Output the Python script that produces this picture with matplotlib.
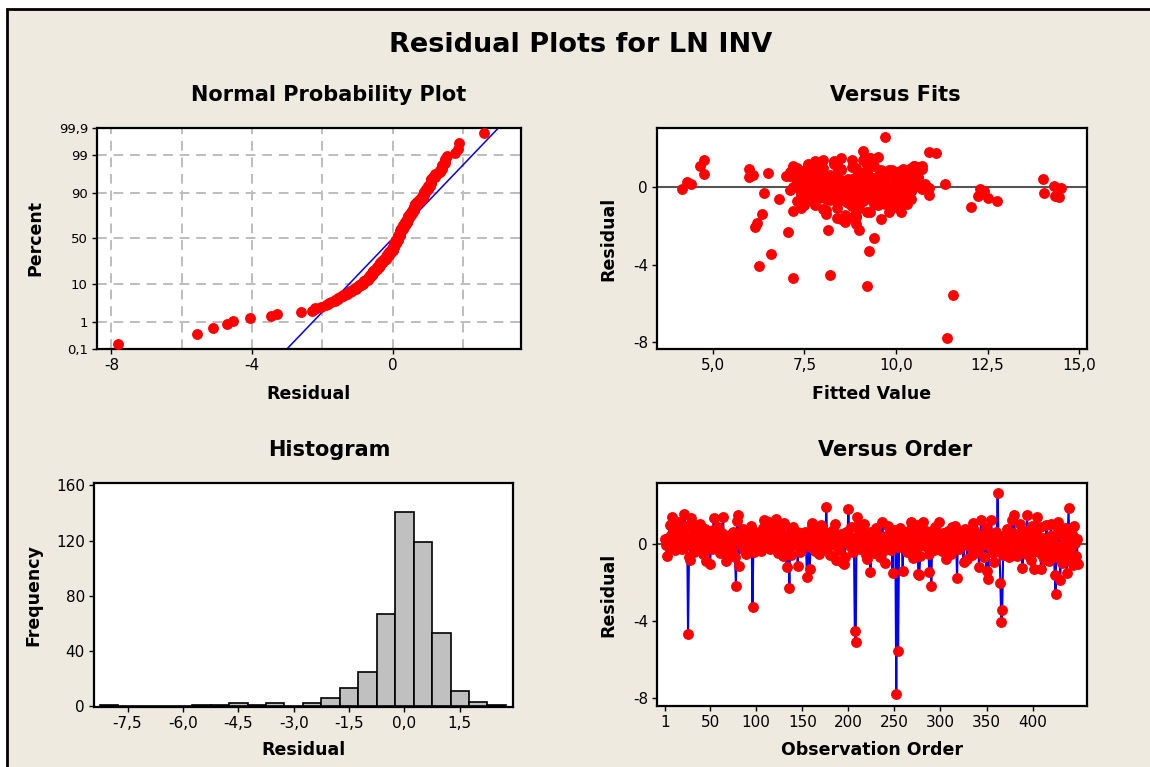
import matplotlib
matplotlib.use("Agg")
import matplotlib.pyplot as plt
import numpy as np
from statistics import NormalDist
from matplotlib.patches import Rectangle

# residuals in observation order
residuals = [
    0.25, -0.10, -0.65, 0.30, 0.05, 0.95, 0.45, -0.20, 1.40, 0.60,
    0.15, -0.35, 0.80, 0.35, -0.05, 1.10, 0.50, 0.20, -0.30, 0.70,
    0.10, 1.55, 0.40, -0.15, 0.90, -4.70, -0.70, -0.85, 1.35, 1.05,
    0.30, -0.45, 0.60, 0.00, 0.85, 0.20, -0.10, 0.55, 1.00, -0.25,
    0.45, -0.55, 0.15, 0.75, 0.05, -0.90, 0.35, 0.65, -0.20, -1.05,
    0.20, -0.30, 0.70, 1.35, 0.10, -0.15, 0.40, 0.00, 0.85, 0.25,
    -0.50, 0.15, 0.55, 1.40, 0.05, -0.20, -0.90, 0.30, -0.60, 0.10,
    0.45, -0.05, 0.20, -0.40, 0.60, 0.15, -0.70, -2.20, 1.15, 1.50,
    -1.15, 0.35, -0.10, 0.50, 0.05, 0.75, -0.35, 0.20, -0.55, 0.65,
    0.00, 0.40, -0.25, 0.90, 0.15, -3.30, 0.30, -0.45, 0.60, 0.10,
    0.55, -0.20, 0.30, 0.05, -0.40, 0.15, 0.80, 1.20, 0.35, -0.10,
    1.15, 0.45, 0.00, 1.10, -0.30, 0.25, 0.60, -0.05, 0.20, 0.90,
    0.40, 1.30, 0.10, -0.50, 0.65, 0.15, -0.15, 0.50, -0.65, 1.05,
    0.20, 0.35, -1.20, 0.05, -0.35, -2.30, 0.70, -0.60, 0.30, 0.85,
    -0.10, 0.45, 0.15, 0.60, -1.15, 0.00, 0.55, -0.45, 0.20, -0.25,
    0.35, -0.05, 0.60, 0.10, -1.75, 0.25, 0.45, -1.30, -0.20, 1.05,
    0.90, 0.15, 0.50, -0.40, 0.75, 0.00, 0.30, -0.55, 0.20, 0.95,
    0.40, -0.10, 0.05, 0.65, -0.30, 1.90, 0.15, -0.15, 0.55, -0.60,
    0.25, 0.10, 0.70, -0.05, 1.00, 0.35, -0.85, 0.45, 0.00, -0.35,
    0.20, 0.50, -0.95, 0.15, -1.05, -0.70, 0.60, 0.05, 0.30, 1.78,
    0.40, -0.15, 0.85, 0.10, -0.45, 0.30, -4.55, -5.10, 1.40, 0.95,
    0.05, 0.55, -0.30, 0.20, 0.65, -0.10, 1.00, 0.35, -0.60, -0.80,
    0.15, 0.45, 0.00, -1.45, 0.60, -0.20, 0.25, -0.50, 0.10, 0.80,
    0.50, -0.05, 0.20, -0.70, 0.35, 0.05, 1.10, -0.40, 0.15, -1.00,
    0.40, -0.25, 0.90, 0.00, 0.55, -0.35, 0.20, -1.55, 0.70, 0.10,
    0.30, -7.80, 0.15, -5.55, -0.20, 0.80, 0.45, 0.05, -1.40, 0.60,
    -0.10, 0.35, 0.20, -0.45, 0.50, 0.00, 0.70, 1.10, 0.25, -0.75,
    0.15, 0.40, -0.30, 0.95, 0.10, -1.60, -1.65, -0.65, 0.55, 0.05,
    1.10, 0.30, -0.15, 0.65, -0.05, 0.20, -0.55, -1.50, 0.45, -2.20,
    0.10, 0.60, -0.35, 0.85, 0.00, 0.35, 0.15, 1.10, -0.25, 0.50,
    0.20, -0.40, 0.55, 0.05, 0.30, -0.80, 0.15, 0.65, -0.10, 0.40,
    -0.55, 0.85, 0.00, 0.25, -0.20, 0.90, 0.10, -1.80, 0.50, -0.30,
    0.15, 0.60, -0.05, 0.35, -0.95, 0.20, 0.75, 0.05, -0.80, 0.45,
    -0.15, 0.30, 0.10, -0.60, 1.05, 0.70, 0.00, -0.35, 0.55, 0.15,
    -0.45, -1.20, 0.25, 1.20, -0.10, 0.40, -0.70, 0.20, 0.80, -1.40,
    0.10, -1.85, 0.40, -0.20, 1.20, 0.30, -0.50, -0.95, 0.05, 0.60,
    -0.15, 2.60, 0.25, -0.40, -2.05, -4.05, -3.45, -0.60, 0.15, 0.45,
    -0.30, 0.75, 0.00, -0.70, 0.35, 0.20, -0.10, 1.20, 0.55, 1.50,
    0.15, -0.45, -0.65, 0.50, 0.05, 1.00, -0.35, 0.30, -1.25, 0.10,
    0.65, -0.20, -0.55, 1.50, 0.20, -0.05, 0.40, -0.85, 0.90, 0.00,
    -1.30, 0.20, -0.40, 0.55, 1.40, -0.10, -0.45, 0.85, -1.30, -0.60,
    0.30, -0.80, 0.05, -0.35, 0.95, -0.55, 0.15, -0.90, 0.40, 1.00,
    -0.50, 0.10, -0.30, -1.65, -2.60, 0.60, -0.70, 1.10, -0.15, -1.90,
    0.45, -1.00, 0.00, -0.40, 0.80, -0.85, -1.55, 0.20, 1.85, -0.65,
    0.35, -0.20, 0.50, -1.10, 0.90, 0.05, -0.65, 0.25, -1.05,
]

# fitted values, same order
fitted = [
    8.9, 4.15, 7.6, 4.30, 9.4, 6.00, 8.2, 10.1, 4.75, 7.9,
    4.40, 8.6, 9.8, 7.4, 8.8, 4.65, 10.3, 9.1, 6.40, 4.75,
    8.3, 9.5, 7.7, 10.0, 8.5, 7.20, 7.3, 9.9, 7.8, 10.6,
    9.2, 8.1, 10.2, 7.5, 9.6, 8.7, 10.4, 6.00, 8.0, 9.3,
    7.9, 8.4, 10.8, 6.50, 9.0, 7.8, 8.6, 6.10, 9.7, 7.4,
    8.8, 10.1, 7.6, 8.3, 9.4, 7.1, 8.9, 10.5, 9.2, 7.7,
    8.5, 9.9, 7.3, 8.0, 10.2, 8.7, 9.5, 7.9, 8.2, 10.7,
    9.0, 7.5, 8.4, 9.8, 7.0, 10.0, 8.6, 8.15, 7.8, 9.3,
    8.1, 9.6, 10.3, 7.6, 8.9, 9.1, 7.4, 10.6, 8.3, 9.7,
    7.2, 8.8, 10.1, 7.9, 9.4, 9.25, 8.5, 7.7, 10.4, 9.0,
    8.0, 9.5, 7.3, 10.2, 8.6, 9.9, 7.1, 8.4, 10.0, 7.8,
    9.2, 8.7, 7.5, 10.5, 9.3, 8.1, 7.9, 10.8, 8.9, 9.6,
    7.6, 8.3, 10.3, 9.0, 7.4, 8.8, 9.7, 10.1, 8.2, 7.7,
    9.4, 10.6, 7.2, 8.5, 9.8, 7.05, 8.0, 10.4, 9.1, 7.9,
    8.6, 9.3, 10.0, 7.5, 8.9, 9.6, 8.3, 10.2, 7.8, 9.0,
    8.7, 10.9, 9.5, 7.6, 8.6, 10.3, 8.1, 9.2, 7.4, 8.8,
    9.9, 7.7, 10.5, 8.4, 9.1, 8.0, 10.1, 9.6, 7.3, 8.5,
    9.4, 10.7, 7.9, 8.2, 9.8, 9.10, 7.5, 10.0, 8.9, 9.3,
    7.8, 8.6, 10.4, 9.0, 7.2, 8.3, 9.7, 10.2, 8.0, 9.5,
    7.6, 10.6, 8.8, 9.2, 8.4, 10.0, 7.1, 9.9, 8.7, 11.10,
    9.3, 7.9, 10.1, 8.5, 12.25, 9.0, 8.20, 9.20, 8.8, 7.7,
    10.3, 8.1, 14.05, 9.6, 7.4, 12.30, 8.9, 10.0, 8.3, 9.5,
    7.8, 14.00, 9.2, 8.6, 10.4, 12.40, 8.0, 14.45, 9.8, 7.5,
    10.2, 14.50, 8.4, 12.75, 9.1, 14.30, 7.6, 10.9, 11.35, 12.05,
    8.7, 9.4, 10.6, 7.3, 8.2, 9.7, 10.1, 8.9, 7.9, 9.0,
    8.5, 11.40, 9.9, 11.55, 7.7, 10.3, 8.8, 9.3, 8.1, 10.0,
    7.4, 9.6, 8.6, 14.35, 10.4, 8.0, 9.1, 7.2, 8.9, 10.2,
    9.5, 7.8, 8.3, 10.7, 9.0, 8.4, 9.60, 8.7, 7.6, 9.8,
    10.5, 8.2, 9.3, 7.5, 10.1, 8.6, 12.50, 8.9, 9.7, 9.00,
    7.9, 10.0, 8.5, 9.2, 7.7, 10.3, 8.1, 9.4, 8.8, 7.4,
    9.9, 8.3, 10.6, 7.8, 9.1, 8.7, 10.2, 7.6, 9.5, 8.0,
    8.9, 10.4, 9.3, 7.3, 8.5, 9.8, 10.0, 8.6, 7.7, 9.0,
    10.1, 8.2, 9.6, 7.5, 8.8, 10.5, 9.2, 8.0, 9.4, 7.9,
    8.6, 10.3, 9.0, 7.4, 8.4, 9.7, 10.8, 8.1, 9.3, 7.8,
    10.0, 8.9, 9.5, 7.6, 8.3, 10.2, 9.1, 8.7, 7.2, 6.35,
    9.8, 6.20, 8.5, 10.4, 7.9, 9.0, 8.2, 10.1, 9.4, 7.7,
    8.8, 9.70, 10.6, 8.0, 6.15, 6.25, 6.60, 6.8, 9.2, 8.4,
    10.3, 7.5, 9.6, 8.6, 10.0, 7.8, 9.1, 8.3, 10.5, 9.3,
    7.6, 8.9, 9.9, 8.1, 10.2, 7.3, 9.5, 8.7, 10.15, 8.0,
    9.0, 10.4, 7.9, 8.5, 9.7, 8.2, 10.1, 9.4, 7.7, 8.8,
    9.8, 8.4, 10.3, 7.6, 9.1, 8.6, 10.0, 7.4, 9.3, 8.1,
    10.6, 8.9, 7.8, 9.5, 10.2, 8.3, 9.0, 7.5, 8.7, 10.4,
    9.2, 8.0, 10.1, 8.5, 9.40, 7.7, 9.6, 10.7, 8.2, 8.9,
    7.9, 10.0, 9.4, 8.6, 7.3, 10.3, 8.8, 9.1, 10.90, 8.4,
    9.7, 7.6, 10.5, 8.0, 9.2, 8.7, 10.2, 7.8, 9.0,
]

pct_ticks = [0.1, 1, 10, 50, 90, 99, 99.9]
pct_labels = ["0,1", "1", "10", "50", "90", "99", "99,9"]
fit_ticks = [5, 7.5, 10, 12.5, 15]
fit_labels = ["5,0", "7,5", "10,0", "12,5", "15,0"]
hist_ticks = [-7.5, -6, -4.5, -3, -1.5, 0, 1.5]
hist_labels = ["-7,5", "-6,0", "-4,5", "-3,0", "-1,5", "0,0", "1,5"]
order_ticks = [1, 50, 100, 150, 200, 250, 300, 350, 400]

plt.rcParams["font.family"] = "DejaVu Sans"
bg = "#EEEAE0"
red = "#FF0000"
blue = "#0000FF"
lab_fs = 12.5

fig = plt.figure(figsize=(11.5, 7.67), dpi=100, facecolor="white")
fig.add_artist(Rectangle((7 / 1150, -0.05), 1.1, 1 - 9 / 767 + 0.05,
                         transform=fig.transFigure, facecolor=bg,
                         edgecolor="black", linewidth=2, zorder=-10))

fig.text(0.505, 0.941, "Residual Plots for LN INV", ha="center", va="center",
         fontsize=19.5, fontweight="bold")


def style(ax):
    for s in ax.spines.values():
        s.set_linewidth(1.6)
    ax.tick_params(direction="out", length=3.5, width=1, labelsize=11, pad=3)


n = len(residuals)
res = np.array(residuals)
obs = np.arange(1, n + 1)

# normal probability plot
ax1 = fig.add_axes([0.0843, 0.5450, 0.3687, 0.2881])
nd = NormalDist()
srt = np.sort(res)
z = np.array([nd.inv_cdf((i - 0.3) / (n + 0.4)) for i in range(1, n + 1)])
zlo, zhi = nd.inv_cdf(0.001), nd.inv_cdf(0.999)
for gx in [-8, -6, -4, -2, 0, 2]:
    ax1.axvline(gx, color="#BDBDBD", lw=1.4, ls=(0, (5, 3.5)), zorder=0)
for p in [1, 10, 50, 90, 99]:
    ax1.axhline(nd.inv_cdf(p / 100), color="#BDBDBD", lw=1.4, ls=(0, (5, 3.5)), zorder=0)
mu, sd = res.mean(), res.std(ddof=1)
ax1.plot([mu + sd * zlo, mu + sd * zhi], [zlo, zhi], color=blue, lw=1.1, zorder=2)
ax1.plot(srt, z, "o", color=red, ms=6.8, zorder=3, clip_on=False)
ax1.set_xlim(-8.41, 3.65)
ax1.set_ylim(zlo, zhi)
ax1.set_yticks([nd.inv_cdf(p / 100) for p in pct_ticks])
ax1.set_yticklabels(pct_labels)
ax1.set_xticks([-8, -4, 0])
ax1.set_xticklabels(["-8", "-4", "0"])
style(ax1)
ax1.tick_params(axis="y", labelsize=9.5)
ax1.set_xlabel("Residual", fontsize=lab_fs, fontweight="bold", va="center")
ax1.xaxis.set_label_coords(0.5, -45 / 221)
ax1.set_ylabel("Percent", fontsize=lab_fs, fontweight="bold", va="center")
ax1.yaxis.set_label_coords(-62 / 424, 0.5)

# versus fits
ax2 = fig.add_axes([0.5713, 0.5450, 0.3739, 0.2881])
ax2.axhline(0, color="#555555", lw=1.5, zorder=1)
ax2.plot(fitted, residuals, "o", color=red, ms=6.8, zorder=3)
ax2.set_xlim(3.48, 15.21)
ax2.set_ylim(-8.36, 3.07)
ax2.set_xticks(fit_ticks)
ax2.set_xticklabels(fit_labels)
ax2.set_yticks([-8, -4, 0])
ax2.set_yticklabels(["-8", "-4", "0"])
style(ax2)
ax2.set_xlabel("Fitted Value", fontsize=lab_fs, fontweight="bold", va="center")
ax2.xaxis.set_label_coords(0.5, -45 / 221)
ax2.set_ylabel("Residual", fontsize=lab_fs, fontweight="bold", va="center")
ax2.yaxis.set_label_coords(-49 / 430, 0.5)

# histogram
ax3 = fig.add_axes([0.0817, 0.0782, 0.3643, 0.2920])
edges = np.arange(-8.25, 2.76, 0.5)
ax3.hist(residuals, bins=edges, color="#C0C0C0", edgecolor="black", linewidth=1.2)
ax3.set_xlim(-8.41, 2.94)
ax3.set_ylim(-0.7, 161.7)
ax3.set_xticks(hist_ticks)
ax3.set_xticklabels(hist_labels)
ax3.set_yticks([0, 40, 80, 120, 160])
style(ax3)
ax3.set_xlabel("Residual", fontsize=lab_fs, fontweight="bold", va="center")
ax3.xaxis.set_label_coords(0.5, -43 / 224)
ax3.set_ylabel("Frequency", fontsize=lab_fs, fontweight="bold", va="center")
ax3.yaxis.set_label_coords(-61 / 419, 0.5)

# versus order
ax4 = fig.add_axes([0.5713, 0.0795, 0.3739, 0.2907])
ax4.axhline(0, color="#555555", lw=1.5, zorder=1)
ax4.plot(obs, residuals, "-", color=blue, lw=1.5, marker="o", mfc=red, mec=red,
         ms=6.8, zorder=3)
ax4.set_xlim(-7.7, 459)
ax4.set_ylim(-8.43, 3.14)
ax4.set_xticks(order_ticks)
ax4.set_yticks([-8, -4, 0])
ax4.set_yticklabels(["-8", "-4", "0"])
style(ax4)
ax4.set_xlabel("Observation Order", fontsize=lab_fs, fontweight="bold", va="center")
ax4.xaxis.set_label_coords(0.5, -44 / 223)
ax4.set_ylabel("Residual", fontsize=lab_fs, fontweight="bold", va="center")
ax4.yaxis.set_label_coords(-49 / 430, 0.5)

title_kw = dict(ha="center", va="center", fontsize=15, fontweight="bold")
fig.text(329 / 1150, 1 - 95 / 767, "Normal Probability Plot", **title_kw)
fig.text(895 / 1150, 1 - 95 / 767, "Versus Fits", **title_kw)
fig.text(329 / 1150, 1 - 450 / 767, "Histogram", **title_kw)
fig.text(895 / 1150, 1 - 450 / 767, "Versus Order", **title_kw)

fig.savefig("out.png", dpi=100, facecolor=fig.get_facecolor())
